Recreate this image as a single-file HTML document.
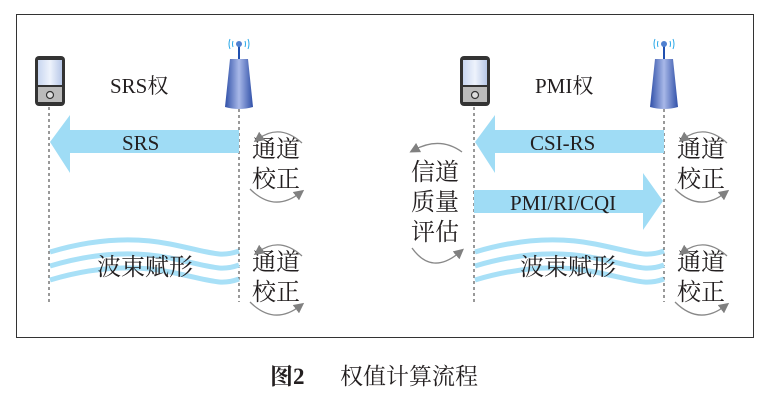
<!DOCTYPE html>
<html><head><meta charset="utf-8"><style>
body{margin:0;background:#fff;width:772px;height:400px;overflow:hidden}
svg{display:block}
text{font-family:"Liberation Serif","Noto Serif CJK SC",serif;fill:#231f20}
</style></head><body>
<svg width="772" height="400" viewBox="0 0 772 400">
<defs>
<linearGradient id="scr" x1="0" x2="1"><stop offset="0" stop-color="#c8d6f0"/><stop offset="0.5" stop-color="#eef3fc"/><stop offset="1" stop-color="#b8c8e8"/></linearGradient>
<linearGradient id="tw" x1="0" x2="1"><stop offset="0" stop-color="#3050a8"/><stop offset="0.5" stop-color="#a8b8e8"/><stop offset="1" stop-color="#3050a8"/></linearGradient>
<marker id="ah" markerWidth="8" markerHeight="8" refX="4" refY="4" orient="auto"><path d="M0,0 L8,4 L0,8 Z" fill="#808080"/></marker>
<g id="phone"><rect x="0" y="0" width="30" height="50" rx="4" fill="#333"/><rect x="3" y="4" width="24" height="25" fill="url(#scr)"/><rect x="3" y="31" width="24" height="15" fill="#bbb"/><circle cx="15" cy="39" r="3.5" fill="#ddd" stroke="#333" stroke-width="1.2"/></g>
<g id="tower"><path d="M-9,-2 Q-11,3 -9,8 M-6,0 Q-7,3 -6,6 M9,-2 Q11,3 9,8 M6,0 Q7,3 6,6" stroke="#2aa8e8" fill="none" stroke-width="1"/><line x1="0" y1="3" x2="0" y2="18" stroke="#2050b0" stroke-width="2"/><circle cx="0" cy="3" r="3" fill="#5080d0"/><path d="M-9,18 L9,18 L14,66 Q0,70 -14,66 Z" fill="url(#tw)"/></g>
<g id="cal"><text x="0" y="0" font-size="24">通道</text><text x="0" y="30" font-size="24">校正</text><path d="M50,-14 Q28,-34 6,-18" stroke="#888" fill="none" stroke-width="1.3" marker-end="url(#ah)"/><path d="M-2,32 Q22,56 48,36" stroke="#888" fill="none" stroke-width="1.3" marker-end="url(#ah)"/></g>
<g id="waves" fill="none" stroke="#a8e0f7" stroke-width="5">
<path d="M0,252 C40,240 80,236 120,244 S170,258 189,251"/>
<path d="M0,266 C40,254 80,250 120,258 S170,272 189,265"/>
<path d="M0,280 C40,268 80,264 120,272 S170,286 189,279"/>
</g>
</defs>
<rect x="16.5" y="14.5" width="737" height="323" fill="none" stroke="#333" stroke-width="1"/>
<!-- left -->
<use href="#phone" x="35" y="56"/>
<use href="#tower" x="239" y="41"/>
<line x1="49" y1="107" x2="49" y2="302" stroke="#333" stroke-dasharray="3,3"/>
<line x1="239" y1="109" x2="239" y2="302" stroke="#333" stroke-dasharray="3,3"/>
<text x="110" y="93" font-size="21">SRS权</text>
<path d="M239,130 L70,130 L70,115 L50,142 L70,173 L70,153 L239,153 Z" fill="#9fdcf5"/>
<text x="122" y="150" font-size="21">SRS</text>
<use href="#waves" x="50" y="0"/>
<text x="97" y="275" font-size="24">波束赋形</text>
<use href="#cal" x="252" y="157"/>
<use href="#cal" x="252" y="270"/>
<!-- right -->
<use href="#phone" x="460" y="56"/>
<use href="#tower" x="664" y="41"/>
<line x1="474" y1="107" x2="474" y2="302" stroke="#333" stroke-dasharray="3,3"/>
<line x1="664" y1="109" x2="664" y2="302" stroke="#333" stroke-dasharray="3,3"/>
<text x="535" y="93" font-size="21">PMI权</text>
<path d="M664,130 L495,130 L495,115 L475,142 L495,173 L495,153 L664,153 Z" fill="#9fdcf5"/>
<text x="530" y="150" font-size="21">CSI-RS</text>
<path d="M474,190 L643,190 L643,173 L663,201 L643,230 L643,213 L474,213 Z" fill="#9fdcf5"/>
<text x="510" y="210" font-size="21">PMI/RI/CQI</text>
<use href="#waves" x="475" y="0"/>
<text x="520" y="275" font-size="24">波束赋形</text>
<use href="#cal" x="677" y="157"/>
<use href="#cal" x="677" y="270"/>
<text x="411" y="180" font-size="24">信道</text>
<text x="411" y="210" font-size="24">质量</text>
<text x="411" y="240" font-size="24">评估</text>
<path d="M462,152 Q440,136 414,150" stroke="#888" fill="none" stroke-width="1.3" marker-end="url(#ah)"/>
<path d="M412,248 Q432,276 460,252" stroke="#888" fill="none" stroke-width="1.3" marker-end="url(#ah)"/>
<text x="270" y="384" font-size="23" font-weight="bold" font-family="Liberation Sans,Noto Sans CJK SC,sans-serif">图2</text>
<text x="340" y="384" font-size="23">权值计算流程</text>
</svg>
</body></html>
